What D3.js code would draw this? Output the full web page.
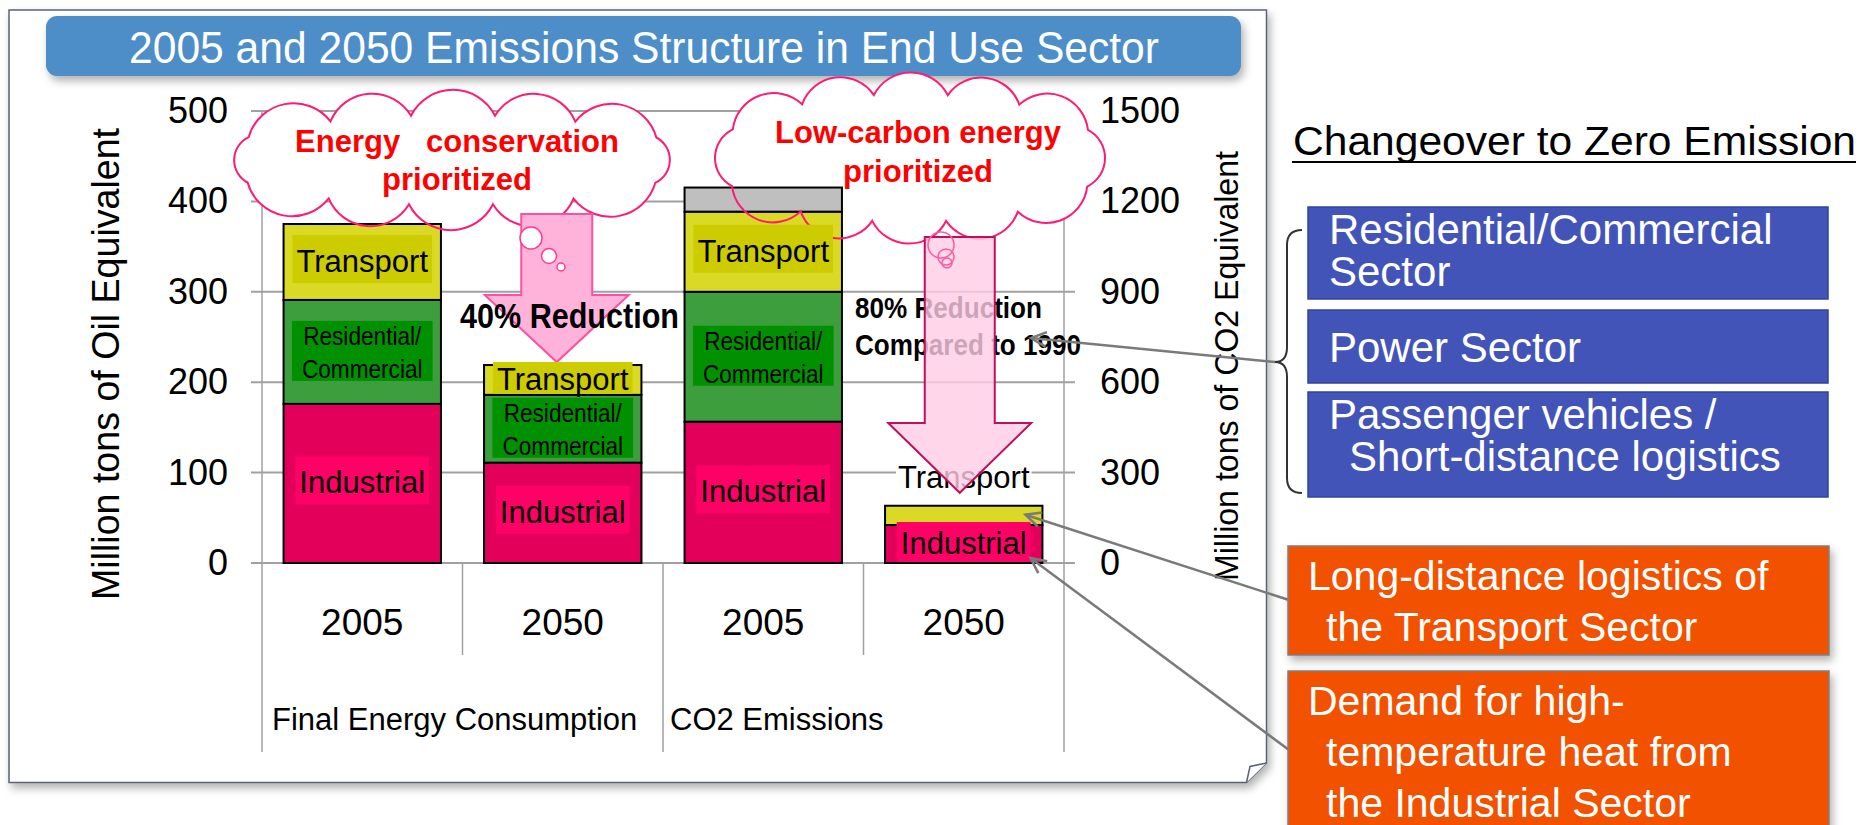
<!DOCTYPE html>
<html>
<head>
<meta charset="utf-8">
<script src="https://cdn.jsdelivr.net/npm/d3@7"></script>
<style>
  body { margin: 0; background: #fff; }
  svg text { font-family: "Liberation Sans", Arial, sans-serif; }
</style>
</head>
<body>
<svg id="chart" width="1864" height="825"></svg>
<script>
// ---- data ----
const categories = ["2005", "2050", "2005", "2050"];
const groups = ["Final Energy Consumption", "CO2 Emissions"];
const sectors = ["Industrial", "Residential/Commercial", "Transport", "Other"];
// million tons of oil equivalent (left axis)
const energy2005 = [176, 115, 84, 0];
const energy2050 = [111, 75, 33, 0];
// million tons of CO2 equivalent (right axis)
const co2_2005 = [469, 431, 266, 80];
const co2_2050 = [126, 0, 64, 0];
const leftTicks = [0, 100, 200, 300, 400, 500];
const rightTicks = [0, 300, 600, 900, 1200, 1500];

const zeroBoxes = [["Residential/Commercial", "Sector"], ["Power Sector"], ["Passenger vehicles /", "Short-distance logistics"]];
const remainBoxes = [["Long-distance logistics of", "the Transport Sector"], ["Demand for high-", "temperature heat from", "the Industrial Sector"]];

const fills = {"Industrial": "#e2005a", "Residential/Commercial": "#3d9e3d", "Transport": "#d9d926", "Other": "#bfbfbf"};
const labelBg = {"Industrial": "#ff0066", "Residential/Commercial": "#009000", "Transport": "#cccc00"};

const svg = d3.select("#chart");
const defs = svg.append("defs");
defs.append("filter").attr("id", "shadow")
  .attr("x", "-5%").attr("y", "-10%").attr("width", "115%").attr("height", "140%")
  .append("feDropShadow")
  .attr("dx", 3).attr("dy", 5).attr("stdDeviation", 4)
  .attr("flood-color", "#000").attr("flood-opacity", 0.3);

// page frame with folded corner
svg.append("path")
  .attr("d", "M9,10 H1266.5 V763 L1246.5,782.5 H9 Z")
  .attr("fill", "#fff").attr("stroke", "#5b6275").attr("stroke-width", 1.5)
  .attr("filter", "url(#shadow)");
svg.append("path")
  .attr("d", "M1246.5,782.5 L1250,766.5 L1266.5,763")
  .attr("fill", "#fff").attr("stroke", "#5b6275").attr("stroke-width", 1.5);

// title banner
svg.append("rect")
  .attr("x", 46).attr("y", 16).attr("width", 1195).attr("height", 60).attr("rx", 11)
  .attr("fill", "#4e8ec9").attr("filter", "url(#shadow)");
svg.append("text")
  .attr("x", 644).attr("y", 63).attr("text-anchor", "middle")
  .attr("font-size", 44).attr("fill", "#fff")
  .attr("textLength", 1030).attr("lengthAdjust", "spacingAndGlyphs")
  .text("2005 and 2050 Emissions Structure in End Use Sector");

// scales
const x = d3.scaleBand().domain(d3.range(categories.length))
  .range([262, 1064]).paddingInner(0.215).paddingOuter(0.1075);
const yL = d3.scaleLinear().domain([0, 500]).range([563, 111]);
const yR = d3.scaleLinear().domain([0, 1500]).range([563, 111]);
const bw = x.bandwidth();

// gridlines (with outside tick stubs on both sides)
svg.append("g").selectAll("line")
  .data(leftTicks).enter().append("line")
  .attr("x1", 251).attr("x2", 1075)
  .attr("y1", d => yL(d)).attr("y2", d => yL(d))
  .attr("stroke", "#a0a0a0").attr("stroke-width", 2);

// plot sides + category separators
const x0 = x.range()[0];
svg.append("g").selectAll("line")
  .data(d3.range(categories.length + 1)).enter().append("line")
  .attr("x1", i => x0 + i * x.step()).attr("x2", i => x0 + i * x.step())
  .attr("y1", i => (i % 4 === 0) ? yL(500) : yL(0))
  .attr("y2", i => (i % 2 === 0) ? 752 : 655)
  .attr("stroke", "#a0a0a0").attr("stroke-width", 1.5);

// axes labels
const leftAxis = svg.append("g").attr("transform", "translate(262,0)")
  .call(d3.axisLeft(yL).tickValues(leftTicks).tickFormat(d3.format("d")).tickSize(0).tickPadding(34));
const rightAxis = svg.append("g").attr("transform", "translate(1064,0)")
  .call(d3.axisRight(yR).tickValues(rightTicks).tickFormat(d3.format("d")).tickSize(0).tickPadding(36));
const catAxis = svg.append("g").attr("transform", "translate(0,563)")
  .call(d3.axisBottom(x).tickFormat(i => categories[i]).tickSize(0).tickPadding(46));
[leftAxis, rightAxis, catAxis].forEach(g => {
  g.select(".domain").remove();
  g.attr("font-family", null).attr("font-size", null);
  g.selectAll("text").attr("font-size", g === catAxis ? 37 : 36).attr("fill", "#000");
});

// group labels
svg.append("g").selectAll("text")
  .data(groups).enter().append("text")
  .attr("x", (d, i) => x0 + i * 2 * x.step() + (i === 0 ? 10 : 7))
  .attr("y", 730)
  .attr("font-size", 31)
  .text(d => d);

// axis titles
svg.append("text")
  .attr("transform", "translate(119,364) rotate(-90)")
  .attr("text-anchor", "middle").attr("font-size", 38)
  .attr("textLength", 472).attr("lengthAdjust", "spacingAndGlyphs")
  .text("Million tons of Oil Equivalent");
svg.append("text")
  .attr("transform", "translate(1238,366) rotate(-90)")
  .attr("text-anchor", "middle").attr("font-size", 33)
  .attr("textLength", 430).attr("lengthAdjust", "spacingAndGlyphs")
  .text("Million tons of CO2 Equivalent");

// clouds
function cloudPath(cx, cy, rx, ry, n, start) {
  const N = 720, pts = [], len = [0];
  for (let j = 0; j <= N; j++) {
    const t = 2 * Math.PI * j / N;
    pts.push([cx + rx * Math.cos(t), cy + ry * Math.sin(t)]);
    if (j) len.push(len[j - 1] + Math.hypot(pts[j][0] - pts[j - 1][0], pts[j][1] - pts[j - 1][1]));
  }
  const total = len[N];
  const nodes = d3.range(n).map(k => pts[Math.min(d3.bisectLeft(len, ((k + start) / n % 1) * total), N)]);
  let d = `M${nodes[0][0]},${nodes[0][1]}`;
  nodes.forEach((p, j) => {
    const q = nodes[(j + 1) % n];
    const r = Math.hypot(q[0] - p[0], q[1] - p[1]) * 0.56;
    d += `A${r},${r} 0 0 1 ${q[0]},${q[1]}`;
  });
  return d + "Z";
}
const clouds = [
  {d: cloudPath(452, 160, 236, 45, 12, 0.5), lines: ["Energy   conservation", "prioritized"], cx: 457, ys: [152, 190]},
  {d: cloudPath(910, 158, 198, 64, 12, 0.5), lines: ["Low-carbon energy", "prioritized"], cx: 918, ys: [143, 182]}
];
const cloudFill = svg.append("g");
clouds.forEach(c => cloudFill.append("path").attr("d", c.d).attr("fill", "#fff"));

// stacked bars
const bars = [
  {i: 0, vals: energy2005, y: yL},
  {i: 1, vals: energy2050, y: yL},
  {i: 2, vals: co2_2005, y: yR},
  {i: 3, vals: co2_2050, y: yR}
];
const segs = [];
bars.forEach(b => {
  let acc = 0;
  b.vals.forEach((v, k) => {
    if (v > 0) segs.push({bar: b.i, key: sectors[k], y0: b.y(acc), y1: b.y(acc + v)});
    acc += v;
  });
});
svg.append("g").selectAll("rect")
  .data(segs).enter().append("rect")
  .attr("x", d => x(d.bar)).attr("y", d => d.y1)
  .attr("width", bw).attr("height", d => d.y0 - d.y1)
  .attr("fill", d => fills[d.key])
  .attr("stroke", "#000").attr("stroke-width", 2);

// cloud outlines
clouds.forEach(c => {
  svg.append("path").attr("d", c.d).attr("fill", "none")
    .attr("stroke", "#ff1a75").attr("stroke-width", 2);
});

// arrow shape
function arrowPath(cx, top, base, tip, sh, hh) {
  return `M${cx - sh},${top} H${cx + sh} V${base} H${cx + hh} L${cx},${tip} L${cx - hh},${base} H${cx - sh} Z`;
}
svg.append("path")
  .attr("d", arrowPath(x(1) + bw / 2 - 6, 214, 295, yL(d3.sum(energy2050)) - 3, 35.5, 72))
  .attr("fill", "#ffb3da").attr("stroke", "#ff4fa0").attr("stroke-width", 2);
[[531, 238, 11], [549, 256, 7.5], [561, 267, 4]].forEach(c => {
  svg.append("circle").attr("cx", c[0]).attr("cy", c[1]).attr("r", c[2])
    .attr("fill", "#fff").attr("stroke", "#ff3b8e").attr("stroke-width", 1.5);
});

clouds.forEach(c => {
  c.lines.forEach((t, j) => {
    svg.append("text")
      .attr("x", c.cx).attr("y", c.ys[j]).attr("text-anchor", "middle")
      .attr("font-size", 31).attr("font-weight", "bold").attr("fill", "#ff0000")
      .style("white-space", "pre")
      .text(t);
  });
});

// segment labels
const labels = svg.append("g");
segs.filter(s => s.key !== "Other").forEach(s => {
  const cx = x(s.bar) + bw / 2;
  const c = (s.y0 + s.y1) / 2;
  const h = s.y0 - s.y1;
  const g = labels.append("g");
  if (h < 25) {
    // label sits above a thin segment
    const bg = g.append("rect").attr("fill", "#fff");
    const t = g.append("text").attr("x", cx).attr("y", s.y1 - 18)
      .attr("text-anchor", "middle").attr("font-size", 31).text(s.key);
    const w = t.node().getComputedTextLength();
    bg.attr("x", cx - w / 2 - 2).attr("y", s.y1 - 52).attr("width", w + 4).attr("height", 44);
    return;
  }
  const two = s.key === "Residential/Commercial";
  const lines = two ? ["Residential/", "Commercial"] : [s.key];
  const bg = g.append("rect").attr("fill", labelBg[s.key]);
  let maxW = 0;
  lines.forEach((t, j) => {
    const tx = g.append("text").attr("x", cx).attr("text-anchor", "middle")
      .attr("font-size", two ? 26 : 31)
      .attr("y", two ? c - 7 + j * 33 : c + 10)
      .text(t);
    let w = tx.node().getComputedTextLength();
    if (two) { w *= 0.87; tx.attr("textLength", w).attr("lengthAdjust", "spacingAndGlyphs"); }
    maxW = Math.max(maxW, w);
  });
  let top = two ? c - 31 : c - 27;
  let hh = two ? 60 : 48;
  if (hh > h + 2) { hh = h + 2; top = c - hh / 2 - 2; }
  if (top + hh > yL(0)) hh = yL(0) - top;
  const pad = two ? 10 : 4;
  bg.attr("x", cx - maxW / 2 - pad).attr("width", maxW + 2 * pad)
    .attr("y", top).attr("height", hh);
});

// reduction notes
svg.append("text").attr("x", 460).attr("y", 328)
  .attr("font-size", 35).attr("font-weight", "bold")
  .attr("textLength", 219).attr("lengthAdjust", "spacingAndGlyphs")
  .text("40% Reduction");
svg.append("text").attr("x", 855).attr("y", 318)
  .attr("font-size", 30).attr("font-weight", "bold")
  .attr("textLength", 187).attr("lengthAdjust", "spacingAndGlyphs")
  .text("80% Reduction");
svg.append("text").attr("x", 855).attr("y", 355)
  .attr("font-size", 30).attr("font-weight", "bold")
  .attr("textLength", 226).attr("lengthAdjust", "spacingAndGlyphs")
  .text("Compared to 1990");

// second arrow, translucent, drawn on top
svg.append("path")
  .attr("d", arrowPath(x(3) + bw / 2 - 4, 237, 423, yR(d3.sum(co2_2050)) - 13, 35, 71.5))
  .attr("fill", "#ffcce5").attr("fill-opacity", 0.8)
  .attr("stroke", "#c0105a").attr("stroke-width", 2);
[[941, 245, 13], [946, 257, 8], [947, 263, 5]].forEach(c => {
  svg.append("circle").attr("cx", c[0]).attr("cy", c[1]).attr("r", c[2])
    .attr("fill", "none").attr("stroke", "#ff5aa0").attr("stroke-width", 1.5);
});

// connector lines with open heads
function pointer(x1, y1, hx, hy) {
  const a = Math.atan2(y1 - hy, x1 - hx), L = 17, s = 0.45;
  svg.append("line").attr("x1", x1).attr("y1", y1).attr("x2", hx).attr("y2", hy)
    .attr("stroke", "#7a7a7a").attr("stroke-width", 2.5);
  svg.append("path")
    .attr("d", `M${hx + L * Math.cos(a + s)},${hy + L * Math.sin(a + s)} L${hx},${hy} L${hx + L * Math.cos(a - s)},${hy + L * Math.sin(a - s)}`)
    .attr("fill", "none").attr("stroke", "#7a7a7a").attr("stroke-width", 2.5);
}
pointer(1275, 362, 1031, 338);
pointer(1289, 600, x(3) + bw - 17, yR(d3.sum(co2_2050)) + 9);
pointer(1289, 750, x(3) + bw - 12, yR(co2_2050[0]) + 33);

// right panel
svg.append("text").attr("x", 1293).attr("y", 155).attr("font-size", 41)
  .attr("textLength", 563).attr("lengthAdjust", "spacingAndGlyphs")
  .text("Changeover to Zero Emission");
svg.append("line").attr("x1", 1292).attr("x2", 1856).attr("y1", 162).attr("y2", 162)
  .attr("stroke", "#000").attr("stroke-width", 2);

svg.append("path")
  .attr("d", "M1302,230 Q1287,230 1287,245 V347 Q1287,362 1275,362 Q1287,362 1287,377 V478 Q1287,493 1302,493")
  .attr("fill", "none").attr("stroke", "#333").attr("stroke-width", 2);

const blueY = [207, 310, 392], blueH = [92, 73, 105];
zeroBoxes.forEach((lines, i) => {
  svg.append("rect").attr("x", 1308).attr("y", blueY[i]).attr("width", 520).attr("height", blueH[i])
    .attr("fill", "#4354b8").attr("stroke", "#33439a").attr("stroke-width", 1.5);
  const base = lines.length === 2 ? [36.5, 79] : [52];
  lines.forEach((t, j) => {
    svg.append("text").attr("x", (i === 2 && j === 1) ? 1349 : 1329)
      .attr("y", blueY[i] + base[j]).attr("font-size", 42).attr("fill", "#fff").text(t);
  });
});

const orangeY = [546, 671], orangeH = [109, 170];
remainBoxes.forEach((lines, i) => {
  svg.append("rect").attr("x", 1288).attr("y", orangeY[i]).attr("width", 541).attr("height", orangeH[i])
    .attr("fill", "#f25100").attr("stroke", "#7f7f7f").attr("stroke-width", 1.5)
    .attr("filter", "url(#shadow)");
  lines.forEach((t, j) => {
    svg.append("text").attr("x", j === 0 ? 1308 : 1326)
      .attr("y", orangeY[i] + 44 + j * 51).attr("font-size", 41).attr("fill", "#fff").text(t);
  });
});
</script>
</body>
</html>
